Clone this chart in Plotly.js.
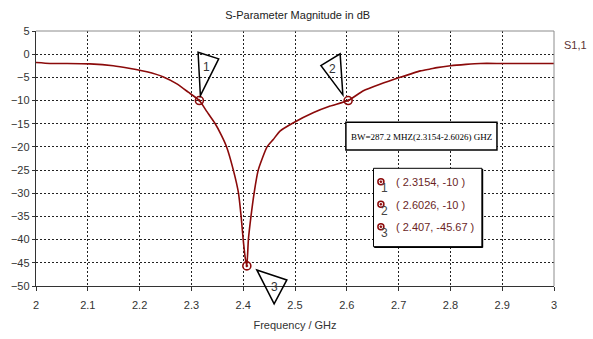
<!DOCTYPE html>
<html><head><meta charset="utf-8">
<script src="https://cdn.plot.ly/plotly-3.0.1.min.js"></script>
<style>html,body{margin:0;padding:0;background:#fff}#c{width:593px;height:339px}</style>
</head><body><div id="c"></div>
<script>
// ---- data ----
const freq = [2.000, 2.027, 2.060, 2.104, 2.149, 2.182, 2.214, 2.246, 2.272, 2.294, 2.3154, 2.330, 2.346, 2.358, 2.368, 2.381, 2.391, 2.396, 2.400, 2.404, 2.407, 2.410, 2.415, 2.421, 2.429, 2.446, 2.458, 2.471, 2.497, 2.536, 2.568, 2.6026, 2.632, 2.664, 2.703, 2.742, 2.761, 2.774, 2.800, 2.830, 2.858, 2.900, 3.000];
const s11 = [-1.8, -2.0, -2.0, -2.1, -2.5, -3.1, -3.8, -4.9, -6.4, -8.2, -10.0, -12.4, -15.0, -17.5, -20.0, -25.0, -30.0, -35.0, -40.0, -44.0, -45.67, -40.0, -35.0, -30.0, -25.0, -20.0, -18.4, -16.6, -14.8, -12.6, -11.2, -10.0, -7.9, -6.5, -5.0, -3.6, -3.2, -2.9, -2.5, -2.2, -2.0, -2.0, -2.0];
const markerFreq = [2.3154, 2.6026, 2.407];
const markerVal = [-10, -10, -45.67];
const markerNames = ["1", "2", "3"];
const markerText = ["( 2.3154, -10 )", "( 2.6026, -10 )", "( 2.407, -45.67 )"];
const xTicks = [2, 2.1, 2.2, 2.3, 2.4, 2.5, 2.6, 2.7, 2.8, 2.9, 3];
const xTickText = ["2", "2.1", "2.2", "2.3", "2.4", "2.5", "2.6", "2.7", "2.8", "2.9", "3"];
const yTicks = [5, 0, -5, -10, -15, -20, -25, -30, -35, -40, -45, -50];
const bwText = "BW=287.2 MHZ(2.3154-2.6026) GHZ";
const traceName = "S1,1";

// ---- geometry ----
const W = 593, H = 339;
const PL = 36, PR = 553.7, PT = 31, PB = 286;
const X0 = 2, X1 = 3, Y0 = -50, Y1 = 5;
const fx = f => PL + (f - X0) / (X1 - X0) * (PR - PL);
const vy = v => PB - (v - Y0) / (Y1 - Y0) * (PB - PT);
const px = x => (x - PL) / (PR - PL);
const py = y => (PB - y) / (PB - PT);

const RED = '#8b0a0a';
const FONT = 'Liberation Sans, Arial, sans-serif';

const shapes = [];
const annotations = [];

// border top/right (gray)
shapes.push({type:'line', xref:'paper', yref:'paper', x0:0, x1:1, y0:1, y1:1, line:{color:'#8c8c8c', width:1}});
shapes.push({type:'line', xref:'paper', yref:'paper', x0:1, x1:1, y0:0, y1:1, line:{color:'#8c8c8c', width:1}});

// triangle callouts (pixel offsets relative to each marker)
const tri = [
  {v:[[-1.3,-48.3],[19.3,-41.7],[1,-5]], l:[6.7,-33.3]},
  {v:[[-27.3,-35],[-8,-46.7],[-5.3,-5.7]], l:[-15.7,-31.7]},
  {v:[[10,4],[40,14],[27.3,38]], l:[27.3,21]}
];
markerFreq.forEach((f, i) => {
  const mx = fx(f), my = vy(markerVal[i]);
  const pts = tri[i].v.map(p => [px(mx + p[0]), py(my + p[1])]);
  const path = 'M' + pts.map(p => p[0] + ',' + p[1]).join(' L') + ' Z';
  shapes.push({type:'path', xref:'paper', yref:'paper', path:path, fillcolor:'rgba(255,255,255,0)', line:{color:'#000', width:1.5}});
  annotations.push({xref:'paper', yref:'paper', x:px(mx + tri[i].l[0]), y:py(my + tri[i].l[1]), text:markerNames[i], showarrow:false, font:{family:FONT, size:12, color:'#333'}, xanchor:'center', yanchor:'middle'});
});

// BW box
shapes.push({type:'rect', xref:'paper', yref:'paper', x0:px(345.7), x1:px(496.7), y0:py(150), y1:py(122.3), fillcolor:'#fff', line:{color:'#000', width:1.5}});
annotations.push({xref:'paper', yref:'paper', x:px(421.2), y:py(136.5), text:bwText, showarrow:false, font:{family:'Liberation Serif, Times New Roman, serif', size:9, color:'#000'}, xanchor:'center', yanchor:'middle'});

// marker table box
shapes.push({type:'rect', xref:'paper', yref:'paper', x0:px(373.3), x1:px(481.7), y0:py(246.7), y1:py(168.3), fillcolor:'#fff', line:{color:'#000', width:1}});
shapes.push({type:'line', xref:'paper', yref:'paper', x0:px(482.2), x1:px(482.2), y0:py(247.5), y1:py(169), line:{color:'#000', width:1.5}});
shapes.push({type:'line', xref:'paper', yref:'paper', x0:px(374), x1:px(482.5), y0:py(247.2), y1:py(247.2), line:{color:'#000', width:1.5}});
const rowY = [181.7, 204.3, 226.7];
rowY.forEach((ry, i) => {
  const cx = 380.7;
  shapes.push({type:'circle', xref:'paper', yref:'paper', x0:px(cx-3), x1:px(cx+3), y0:py(ry+3), y1:py(ry-3), line:{color:RED, width:1.5}, fillcolor:'rgba(0,0,0,0)'});
  shapes.push({type:'circle', xref:'paper', yref:'paper', x0:px(cx-0.9), x1:px(cx+0.9), y0:py(ry+0.9), y1:py(ry-0.9), line:{color:RED, width:1}, fillcolor:RED});
  annotations.push({xref:'paper', yref:'paper', x:px(384.5), y:py(ry+6.5), text:markerNames[i], showarrow:false, font:{family:FONT, size:12, color:'#444'}, xanchor:'center', yanchor:'middle'});
  annotations.push({xref:'paper', yref:'paper', x:px(394), y:py(ry+0.5), text:markerText[i], showarrow:false, font:{family:FONT, size:11, color:'#6b1f1f'}, xanchor:'left', yanchor:'middle'});
});

// trace label
annotations.push({xref:'paper', yref:'paper', x:px(575), y:py(45), text:traceName, showarrow:false, font:{family:FONT, size:11, color:'#5c3434'}, xanchor:'center', yanchor:'middle'});

const traces = [
  {x:freq, y:s11, type:'scatter', mode:'lines', line:{color:RED, width:1.6, shape:'spline', smoothing:0.5}, hoverinfo:'skip', showlegend:false, cliponaxis:false},
  {x:markerFreq, y:markerVal, type:'scatter', mode:'markers', marker:{symbol:'circle-open-dot', size:8, color:RED, line:{color:RED, width:1.6}}, showlegend:false, cliponaxis:false}
];

const layout = {
  width:W, height:H,
  margin:{l:PL, r:W-PR, t:PT, b:H-PB, pad:0},
  paper_bgcolor:'#fff', plot_bgcolor:'#fff',
  title:{text:'S-Parameter Magnitude in dB', x:px(297.5), xref:'paper', xanchor:'center', y:1-15/H, yanchor:'middle', yref:'container', font:{family:FONT, size:11, color:'#222'}},
  xaxis:{range:[X0, X1], tickvals:xTicks, ticktext:xTickText, showgrid:true, gridcolor:'#222', griddash:'2px,2px', gridwidth:1,
    showline:true, linecolor:'#333', linewidth:1.2, ticks:'outside', ticklen:4, tickcolor:'#333', zeroline:false,
    tickfont:{family:FONT, size:11, color:'#333'}, ticklabelstandoff:5,
    title:{text:'Frequency / GHz', font:{family:FONT, size:11, color:'#333'}, standoff:10}, automargin:false},
  yaxis:{range:[Y0, Y1], tickvals:yTicks, showgrid:true, gridcolor:'#222', griddash:'2px,2px', gridwidth:1,
    showline:true, linecolor:'#333', linewidth:1.2, ticks:'outside', ticklen:3, tickcolor:'#333', zeroline:false,
    tickfont:{family:FONT, size:11, color:'#333'}, automargin:false},
  shapes:shapes, annotations:annotations
};
Plotly.newPlot('c', traces, layout, {staticPlot:true, displayModeBar:false});
</script></body></html>
